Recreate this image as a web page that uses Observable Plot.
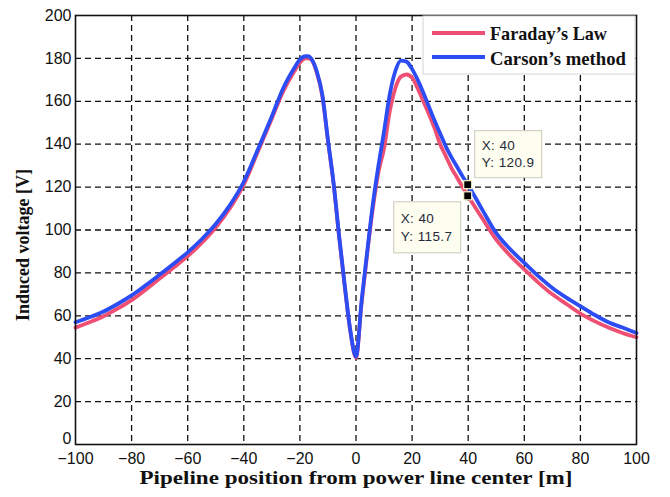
<!DOCTYPE html>
<html><head><meta charset="utf-8">
<script src="https://cdn.jsdelivr.net/npm/d3@7"></script>
<script src="https://cdn.jsdelivr.net/npm/@observablehq/plot@0.6"></script>
<style>body{margin:0;background:#fff}</style>
</head><body><div id="chart"></div>
<script>
const positions = [-100,-95,-90,-85,-80,-75,-70,-65,-60,-55,-50,-45,-40,-35,-30,-26,-22,-20,-18,-17,-16,-14,-12,-10,-8,-6,-4,-2,0,2,4,6,8,10,12,14,16,18,20,22,24,26,28,30,32,34,36,38,40,45,50,55,60,65,70,75,80,85,90,95,100];
const faraday = [54.5,57,59.8,63.3,67.3,72.2,77.4,82.5,87.8,94,101.2,110,121.2,136.5,152,164.5,174,178,180,180,179.5,173.5,162.5,141.5,121.5,96.5,73.5,52.5,40.5,66,89,110,127,138,155,166,171.5,172.5,171,166,160,154,147.5,140,134.5,129,124.5,120,115.7,105.5,95.5,88,81.6,75.5,70,65.5,61,57.5,54.5,52,50];
const carson = [57,59.3,62,65.5,69.5,74.2,79.2,84.3,89.6,95.7,102.8,111.5,122.5,137.5,153,166,175.5,179.5,181,181,180,174,163,142,122,97,74,53,41,67,90,112,130,146,163,174,179,178.5,175,170,164,157.5,151,145,139,134,129.5,125,120.9,109.5,98.5,91,84.7,78.5,73,68.5,64.5,60.5,57,54.5,52];
const xTicks = [-100,-80,-60,-40,-20,0,20,40,60,80,100];
const yTicks = [0,20,40,60,80,100,120,140,160,180,200];
const seriesNames = ["Faraday\u2019s Law", "Carson\u2019s method"];
const seriesColors = ["#ef4f72", "#2c4cf4"];
const tipX = [40, 40];
const tipY = [120.9, 115.7];
const xTitle = "Pipeline position from power line center [m]";
const yTitle = "Induced voltage [V]";

const fRows = positions.map((x, i) => ({x, y: faraday[i]}));
const cRows = positions.map((x, i) => ({x, y: carson[i]}));
const serif = "'Liberation Serif', 'Times New Roman', serif";
const sans = "'Liberation Sans', Arial, sans-serif";
const legendTextLengths = [117, 136];

function legendMark(index, scales, values, dim) {
  const g = d3.create("svg:g");
  const right = dim.width - dim.marginRight - 1;
  const x0 = right - 212, y0 = dim.marginTop + 1;
  g.append("rect").attr("x", x0).attr("y", y0).attr("width", 212).attr("height", 58)
    .attr("fill", "#fff").attr("stroke", "#d4d4d4").attr("stroke-width", 1);
  seriesNames.forEach((n, i) => {
    const ly = y0 + 17 + i * 24;
    g.append("line").attr("x1", x0 + 9).attr("x2", x0 + 62).attr("y1", ly).attr("y2", ly)
      .attr("stroke", seriesColors[i]).attr("stroke-width", 4);
    g.append("text").attr("x", x0 + 67).attr("y", ly + 7 + i)
      .attr("text-anchor", "start")
      .attr("font-family", serif).attr("font-weight", "bold").attr("font-size", 19)
      .attr("textLength", legendTextLengths[i]).attr("lengthAdjust", "spacingAndGlyphs")
      .attr("fill", "#111").text(n);
  });
  return g.node();
}

function tipsMark(index, scales, values, dim) {
  const g = d3.create("svg:g");
  const px = scales.x(tipX[0]);
  const p1 = scales.y(tipY[0]), p2 = scales.y(tipY[1]);
  const boxes = [
    {left: px + 7, top: p1 - 54, h: 47, xs: tipX[0], ys: tipY[0], b1: 19, b2: 36},
    {left: px - 74, top: p2 + 6, h: 51, xs: tipX[1], ys: tipY[1], b1: 21, b2: 39}
  ];
  boxes.forEach(b => {
    g.append("rect").attr("x", b.left).attr("y", b.top).attr("width", 67).attr("height", b.h)
      .attr("fill", "#fdfdf0").attr("stroke", "#c9c9bc").attr("stroke-width", 1);
    g.append("text").attr("x", b.left + 7).attr("y", b.top + b.b1).attr("text-anchor", "start")
      .attr("font-family", sans).attr("font-size", 13.5)
      .attr("letter-spacing", 0.4).attr("fill", "#1f2a3a").text("X: " + b.xs);
    g.append("text").attr("x", b.left + 7).attr("y", b.top + b.b2).attr("text-anchor", "start")
      .attr("font-family", sans).attr("font-size", 13.5)
      .attr("letter-spacing", 0.4).attr("fill", "#1f2a3a").text("Y: " + b.ys);
  });
  [p1, p2].forEach(py => {
    g.append("rect").attr("x", px - 4).attr("y", py - 4).attr("width", 8).attr("height", 8)
      .attr("fill", "#000").attr("stroke", "#f4f4cc").attr("stroke-width", 1.2);
  });
  return g.node();
}

const chart = Plot.plot({
  width: 670,
  height: 497,
  marginLeft: 75,
  marginRight: 34,
  marginTop: 15,
  marginBottom: 53,
  style: {fontFamily: sans, fontSize: "16px", color: "#111", background: "#fff"},
  x: {domain: [-100, 100]},
  y: {domain: [0, 200]},
  marks: [
    Plot.gridX({ticks: xTicks.slice(1, -1), stroke: "#111", strokeOpacity: 1, strokeWidth: 1.3, strokeDasharray: "6,4"}),
    Plot.gridY({ticks: yTicks.slice(1, -1), stroke: "#111", strokeOpacity: 1, strokeWidth: 1.3, strokeDasharray: "6,4"}),
    Plot.axisX({ticks: xTicks, tickSize: 0, tickPadding: 8, label: null, fill: "#111"}),
    Plot.axisY({ticks: yTicks.slice(1), tickSize: 0, tickPadding: 4, label: null, fill: "#111"}),
    Plot.axisY({ticks: yTicks.slice(0, 1), tickSize: 0, tickPadding: 4, dy: -6, label: null, fill: "#111"}),
    Plot.line(fRows, {x: "x", y: "y", stroke: seriesColors[0], strokeWidth: 3.8, curve: "monotone-x"}),
    Plot.line(cRows, {x: "x", y: "y", stroke: seriesColors[1], strokeWidth: 3.8, curve: "monotone-x"}),
    Plot.frame({stroke: "#111", strokeWidth: 1.6}),
    Plot.text([xTitle], {frameAnchor: "bottom", dy: 39, text: d => d, fontFamily: serif, fontWeight: "bold", fontSize: 18, fill: "#111"}),
    Plot.text([yTitle], {frameAnchor: "left", textAnchor: "middle", dx: -52, dy: 15, rotate: -90, text: d => d, fontFamily: serif, fontWeight: "bold", fontSize: 18, fill: "#111"}),
    legendMark,
    tipsMark
  ]
});
d3.select(chart).selectAll("text").filter(function() { return this.textContent === xTitle; })
  .attr("textLength", 433).attr("lengthAdjust", "spacingAndGlyphs");
document.getElementById("chart").appendChild(chart);
</script>
</body></html>
